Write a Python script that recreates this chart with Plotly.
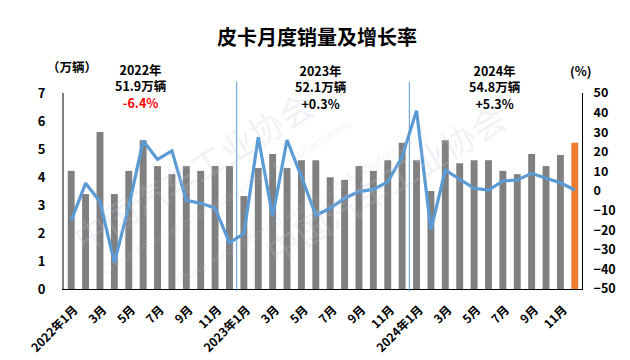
import plotly.graph_objects as go

months = ["2022年1月", "2月", "3月", "4月", "5月", "6月", "7月", "8月", "9月", "10月", "11月", "12月",
          "2023年1月", "2月", "3月", "4月", "5月", "6月", "7月", "8月", "9月", "10月", "11月", "12月",
          "2024年1月", "2月", "3月", "4月", "5月", "6月", "7月", "8月", "9月", "10月", "11月", "12月"]
sales = [4.22, 3.39, 5.61, 3.39, 4.22, 5.31, 4.39, 4.10, 4.39, 4.22, 4.39, 4.39,
         3.32, 4.32, 4.82, 4.32, 4.60, 4.60, 3.99, 3.90, 4.39, 4.22, 4.60, 5.22,
         4.60, 3.50, 5.31, 4.49, 4.60, 4.60, 4.22, 4.10, 4.82, 4.39, 4.79, 5.22]
growth = [-15.1, 3.9, -5.4, -36.5, -8.0, 25.6, 16.1, 20.5, -4.8, -6.3, -8.7, -26.5,
          -21.7, 27.4, -13.0, 26.0, 7.3, -12.4, -8.8, -3.7, -0.3, 0.8, 4.7, 17.5,
          41.0, -19.8, 10.7, 5.9, 1.4, 0.5, 5.1, 5.6, 9.0, 6.5, 4.2, 0.5]
years = ["2022年", "2023年", "2024年"]
year_totals = ["51.9万辆", "52.1万辆", "54.8万辆"]
year_growth = ["-6.4%", "+0.3%", "+5.3%"]

FONT = "Noto Sans CJK SC"
W, H = 630, 360
L, R, T, B = 64, 48, 93, 71
PW, PH = W - L - R, H - T - B


def px(xp):
    return (xp - L) / PW


def py(yp):
    return (H - B - yp) / PH


x = list(range(len(months)))
bar_colors = ["#808080"] * (len(months) - 1) + ["#ED7D31"]

fig = go.Figure()
fig.add_trace(go.Bar(x=x, y=sales, marker=dict(color=bar_colors, line_width=0),
                     yaxis="y", hoverinfo="skip"))
fig.add_trace(go.Scatter(x=x, y=growth, mode="lines", yaxis="y2",
                         line=dict(color="#5B9BD5", width=3.2), hoverinfo="skip"))

# watermark (faint)
wm = "rgba(190,200,218,0.22)"
for (wx, wy, txt, sz) in [(61, 77, "中国汽车工业协会", 34), (385, 90, "中国汽车工业协会", 34)]:
    fig.add_annotation(xref="paper", yref="paper", x=px(wx), y=py(wy), text=txt, showarrow=False,
                       textangle=-31, font=dict(family=FONT, size=sz, color=wm))
for (wx, wy) in [(95, 112), (432, 122)]:
    fig.add_annotation(xref="paper", yref="paper", x=px(wx), y=py(wy),
                       text="China Association of Automobile Manufacturers", showarrow=False,
                       textangle=-31, font=dict(family="Open Sans", size=13, color=wm))

# separators between years
for xs in [11.5, 23.5]:
    fig.add_shape(type="line", xref="x", yref="paper", x0=xs, x1=xs, y0=py(291), y1=py(82),
                  line=dict(color="#5B9BD5", width=1))

# year annotations (three lines each)
ann_x = [141, 321, 495]
ann_y = [86, 87, 87]
for i in range(3):
    gcol = "#FF0000" if year_growth[i].startswith("-") else "#000000"
    txt = "<b>%s<br>%s<br><span style='color:%s'>%s</span></b>" % (
        years[i], year_totals[i], gcol, year_growth[i])
    fig.add_annotation(xref="paper", yref="paper", x=px(ann_x[i]), y=py(ann_y[i]),
                       text=txt, showarrow=False, xanchor="center", yanchor="middle",
                       align="center", borderpad=0,
                       font=dict(family=FONT, size=12.5, color="#000"))

fig.add_annotation(xref="paper", yref="paper", x=px(72), y=py(66), text="<b>（万辆）</b>",
                   showarrow=False, xanchor="center", yanchor="middle",
                   font=dict(family=FONT, size=12.5, color="#000"))
fig.add_annotation(xref="paper", yref="paper", x=px(581), y=py(70), text="<b>(%)</b>",
                   showarrow=False, xanchor="center", yanchor="middle",
                   font=dict(family=FONT, size=12.5, color="#000"))
fig.add_annotation(xref="paper", yref="paper", x=px(317), y=py(37), text="<b>皮卡月度销量及增长率</b>",
                   showarrow=False, xanchor="center", yanchor="middle",
                   font=dict(family=FONT, size=20, color="#000"))

fig.update_layout(
    width=W, height=H,
    margin=dict(l=L, r=R, t=T, b=B, autoexpand=False),
    paper_bgcolor="white", plot_bgcolor="white",
    showlegend=False, bargap=0.52,
    xaxis=dict(range=[-0.5, 35.5], tickmode="array", tickvals=x[::2], ticktext=months[::2],
               tickangle=-45, showline=True, linecolor="#000", linewidth=1, ticks="",
               showgrid=False, zeroline=False, automargin=False,
               ticklabelshift=3, ticklabelstandoff=8,
               tickfont=dict(family=FONT, size=12, color="#000", weight="bold")),
    yaxis=dict(range=[0, 7], dtick=1, showline=True, linecolor="#7f7f7f", linewidth=2,
               showgrid=False, zeroline=False, ticks="", ticklabelstandoff=14, automargin=False,
               tickfont=dict(family=FONT, size=13, color="#000", weight="bold"), tickformat="d"),
    yaxis2=dict(range=[-50, 50], dtick=10, overlaying="y", side="right", showline=True,
                linecolor="#000", linewidth=1, showgrid=False, zeroline=False, ticks="",
                ticklabelstandoff=8, automargin=False,
                tickfont=dict(family=FONT, size=12.5, color="#000", weight="bold")),
)
fig.write_html("out.html", config={"displayModeBar": False},
               post_script="document.body.style.margin='0';")
